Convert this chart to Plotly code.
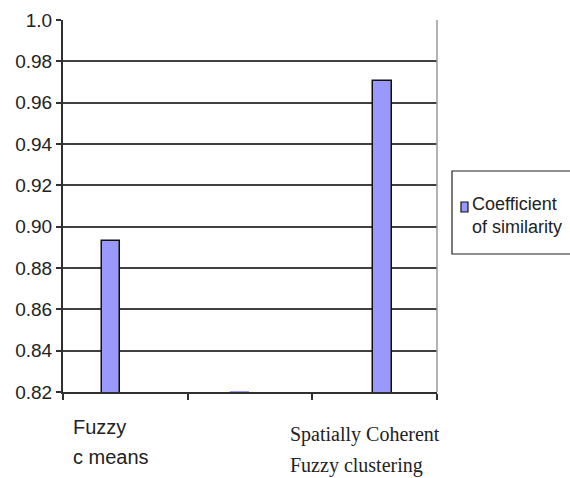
import plotly.graph_objects as go

# Data
categories = ["Fuzzy\nc means", "", "Spatially Coherent\nFuzzy clustering"]
similarity = [0.893, 0.8203, 0.9705]
series_name = "Coefficient\nof similarity"
y_ticks = [0.82, 0.84, 0.86, 0.88, 0.90, 0.92, 0.94, 0.96, 0.98, 1.0]
y_tick_labels = ["0.82", "0.84", "0.86", "0.88", "0.90", "0.92", "0.94", "0.96", "0.98", "1.0"]

x_pos = list(range(len(categories)))

BAR_FILL = "#9999FF"
DARK = "#303030"
TEXT = "#222222"
SANS = "Arial, Liberation Sans, sans-serif"
SERIF = "Times New Roman, Liberation Serif, serif"

W, H = 570, 478
ML, MR, MT, MB = 63, 133, 20, 86
PW, PH = W - ML - MR, H - MT - MB


def px_x(x):
    return (x - ML) / PW


def px_y(y):
    return (H - MB - y) / PH


fig = go.Figure()
fig.add_trace(go.Bar(
    x=x_pos,
    y=similarity,
    name=series_name.replace("\n", "<br>"),
    width=0.15,
    offset=[-0.19, -0.16, -0.012],
    marker=dict(color=BAR_FILL, line=dict(color="#111111", width=[1.5, 0, 1.5])),
    showlegend=False,
))

# category labels under the axis, one annotation per line
label_styles = [
    dict(family=SANS, size=20, xshift=-54, yshifts=[-35, -65]),
    None,
    dict(family=SERIF, size=20, xshift=-87, yshifts=[-42, -73]),
]
for xi, (label, st) in enumerate(zip(categories, label_styles)):
    if not label or st is None:
        continue
    for line, ys in zip(label.split("\n"), st["yshifts"]):
        fig.add_annotation(
            x=xi, xref="x", y=0, yref="paper",
            text=line, showarrow=False,
            xanchor="left", yanchor="middle",
            xshift=st["xshift"], yshift=ys,
            font=dict(family=st["family"], size=st["size"], color=TEXT),
        )

# light border on the right side of the plot area
fig.add_shape(type="line", xref="paper", yref="paper", x0=1, x1=1, y0=0, y1=1,
              line=dict(color="#9a9a9a", width=1.5))

# legend box with its swatch and two-line entry
fig.add_shape(type="rect", xref="paper", yref="paper",
              x0=px_x(452), x1=px_x(585), y0=px_y(254), y1=px_y(171),
              line=dict(color=TEXT, width=1.2), fillcolor="white", layer="above")
fig.add_shape(type="rect", xref="paper", yref="paper",
              x0=px_x(461), x1=px_x(468), y0=px_y(212), y1=px_y(202),
              line=dict(color="#111111", width=1.2), fillcolor=BAR_FILL, layer="above")
for line, cy in zip(series_name.split("\n"), [204, 227]):
    fig.add_annotation(
        x=px_x(470), xref="paper", y=px_y(cy), yref="paper",
        text=line, showarrow=False, xanchor="left", yanchor="middle",
        font=dict(family=SANS, size=18, color=TEXT),
    )

fig.update_layout(
    width=W, height=H,
    margin=dict(l=ML, r=MR, t=MT, b=MB, autoexpand=False),
    paper_bgcolor="white", plot_bgcolor="white",
    bargap=0,
    showlegend=False,
    font=dict(family=SANS, color=TEXT),
    xaxis=dict(
        range=[-0.5, 2.5],
        tickvals=[-0.5, 0.5, 1.5, 2.5],
        showticklabels=False,
        ticks="outside", ticklen=6, tickwidth=1.5, tickcolor=DARK,
        showline=True, linecolor=DARK, linewidth=2,
        showgrid=False, zeroline=False, fixedrange=True,
    ),
    yaxis=dict(
        range=[0.82, 1.0],
        tickvals=y_ticks, ticktext=y_tick_labels,
        ticks="outside", ticklen=5, tickwidth=1.5, tickcolor=DARK,
        tickfont=dict(family=SANS, size=19, color=TEXT),
        showline=True, linecolor=DARK, linewidth=2,
        showgrid=True, gridcolor="#404040", gridwidth=1.5,
        zeroline=False, fixedrange=True,
    ),
)

fig.write_html("out.html")
